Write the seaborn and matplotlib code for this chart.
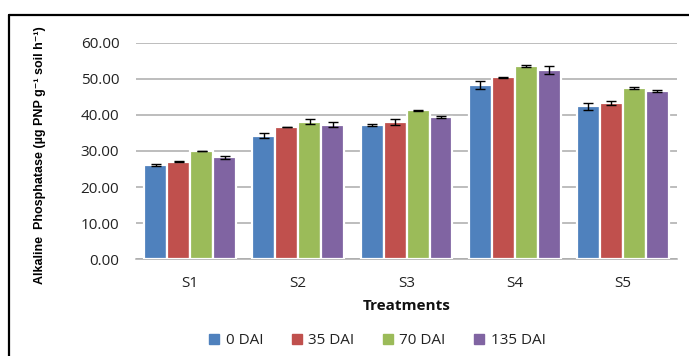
import numpy as np
import pandas as pd
import matplotlib
matplotlib.use("Agg")
import matplotlib.pyplot as plt
from matplotlib.lines import Line2D
import seaborn as sns

# Alkaline phosphatase activity by treatment and sampling day
treatments = ["S1", "S2", "S3", "S4", "S5"]
days = ["0 DAI", "35 DAI", "70 DAI", "135 DAI"]

dai_0 = [26.2, 34.2, 37.2, 48.2, 42.3]
dai_35 = [27.0, 36.6, 38.1, 50.4, 43.3]
dai_70 = [30.0, 38.1, 41.2, 53.5, 47.4]
dai_135 = [28.2, 37.3, 39.3, 52.3, 46.5]

err_0 = [0.30, 0.65, 0.30, 1.10, 0.85]
err_35 = [0.10, 0.10, 0.80, 0.10, 0.55]
err_70 = [0.10, 0.60, 0.10, 0.30, 0.40]
err_135 = [0.50, 0.70, 0.30, 1.15, 0.30]

y_ticks = [0, 10, 20, 30, 40, 50, 60]
colors = ["#4F81BD", "#C0504D", "#9BBB59", "#8064A2"]

values = [dai_0, dai_35, dai_70, dai_135]
errors = [err_0, err_35, err_70, err_135]

df = pd.DataFrame({
    "Treatment": np.tile(treatments, len(days)),
    "DAI": np.repeat(days, len(treatments)),
    "value": np.concatenate(values),
})

sns.set_style("white")
plt.rcParams["font.family"] = ["Open Sans", "DejaVu Sans"]

fig = plt.figure(figsize=(6.89, 3.56), dpi=100)
ax = fig.add_axes([0.1974, 0.2716, 0.7852, 0.6090])

sns.barplot(data=df, x="Treatment", y="value", hue="DAI", order=treatments,
            hue_order=days, palette=colors, width=0.85, errorbar=None,
            edgecolor="white", linewidth=1.6, saturation=1, ax=ax, zorder=3,
            legend=False)

# error bars at the centre of each drawn bar
for cont, err in zip(ax.containers, errors):
    xs = [p.get_x() + p.get_width() / 2 for p in cont.patches]
    hs = [p.get_height() for p in cont.patches]
    ax.errorbar(xs, hs, yerr=err, fmt="none", ecolor="black",
                elinewidth=1.0, capsize=3.5, capthick=1.0, zorder=4)

ax.set_ylim(0, 60)
ax.set_xlim(-0.5, len(treatments) - 0.5)
ax.set_yticks(y_ticks)
ax.set_yticklabels([f"{v:.2f}" for v in y_ticks])
ax.yaxis.grid(True, color="#ABABAB", linewidth=1.1, zorder=0)
ax.set_axisbelow(True)
for side in ["top", "right", "left"]:
    ax.spines[side].set_visible(False)
ax.spines["bottom"].set_color("#ABABAB")
ax.spines["bottom"].set_linewidth(1.1)

ax.tick_params(axis="y", length=0, pad=12, labelsize=11, labelcolor="#222222")
ax.tick_params(axis="x", length=0, pad=12, labelsize=11, labelcolor="#222222")

ax.set_xlabel("Treatments", fontsize=11, fontweight="bold", color="#111111")
ax.xaxis.set_label_coords(0.5, -0.185)
ax.set_ylabel("Alkaline  Phosphatase (µg PNP g⁻¹ soil h⁻¹)", fontsize=9,
              fontweight="bold", family=["Liberation Sans", "DejaVu Sans"],
              color="black")
ax.yaxis.set_label_coords(-0.167, 0.48)

handles = [Line2D([0], [0], marker="s", linestyle="none", markersize=7,
                  markerfacecolor=c, markeredgecolor=c) for c in colors]
fig.legend(handles, days, loc="center", bbox_to_anchor=(0.548, 0.043),
           ncol=4, frameon=False, fontsize=11, handlelength=0.6,
           handletextpad=0.45, columnspacing=1.9, labelcolor="#222222")

# outer frame (top and left edges)
fig.add_artist(Line2D([8.5 / 689, 1.0], [1 - 14.5 / 356] * 2,
                      transform=fig.transFigure, color="black", linewidth=1.6))
fig.add_artist(Line2D([8.5 / 689] * 2, [0.0, 1 - 14.5 / 356],
                      transform=fig.transFigure, color="black", linewidth=1.6))

fig.savefig("out.png", dpi=100)
